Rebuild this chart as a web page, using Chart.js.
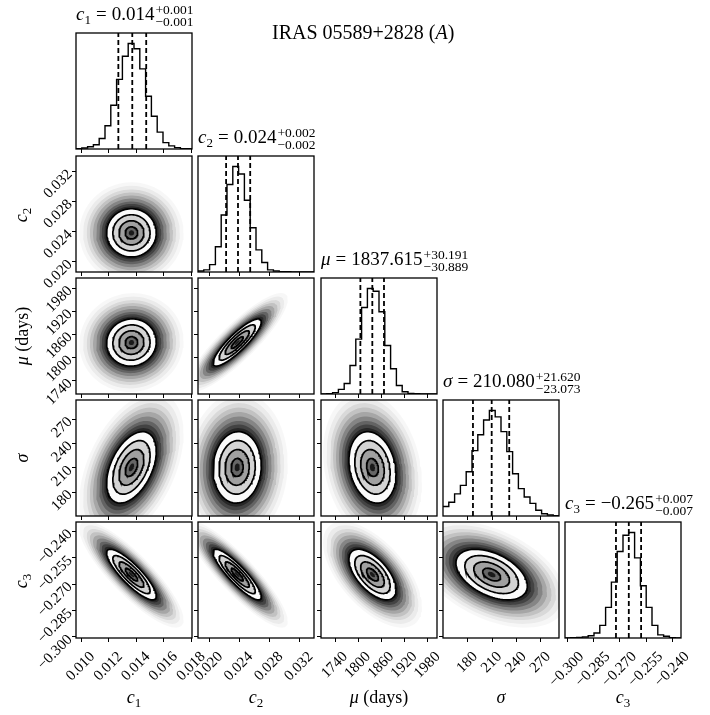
<!DOCTYPE html>
<html>
<head>
<meta charset="utf-8">
<script src="https://cdn.jsdelivr.net/npm/chart.js@4.4.1/dist/chart.umd.min.js"></script>
<style>
  html, body { margin: 0; padding: 0; background: #fff; }
  body { width: 710px; height: 715px; position: relative; overflow: hidden;
         font-family: "Liberation Serif", serif; color: #000; }
  canvas { position: absolute; }
  .txt { position: absolute; white-space: nowrap; font-size: 19px; line-height: 20px; }
  .sb { font-size: 13px; position: relative; top: 4px; }
  .pm { display: inline-flex; flex-direction: column; font-size: 13.5px; line-height: 11.5px;
        position: relative; top: -6px; margin-left: 1px; }
  .eq { margin: 0 5px; }
  .lab { position: absolute; white-space: nowrap; font-size: 18px; line-height: 20px; }
  .main { position: absolute; white-space: nowrap; font-size: 20px; line-height: 20px; }
</style>
</head>
<body>
<script>
// variables, in corner order
const varNames = ['<i>c</i><span class="sb">1</span>', '<i>c</i><span class="sb">2</span>',
                  '<i>μ</i> (days)', '<i>σ</i>', '<i>c</i><span class="sb">3</span>'];
const titleNames = ['<i>c</i><span class="sb">1</span>', '<i>c</i><span class="sb">2</span>',
                    '<i>μ</i>', '<i>σ</i>', '<i>c</i><span class="sb">3</span>'];
const titleValues = ['0.014', '0.024', '1837.615', '210.080', '−0.265'];
const titlePlus = ['+0.001', '+0.002', '+30.191', '+21.620', '+0.007'];
const titleMinus = ['−0.001', '−0.002', '−30.889', '−23.073', '−0.007'];

// axis ranges and ticks
const axisMin = [0.00966, 0.0186, 1704.8, 150.1, -0.3009];
const axisMax = [0.01807, 0.0340, 2005.0, 293.0, -0.2349];
const tickValues = [
  [0.010, 0.012, 0.014, 0.016, 0.018],
  [0.020, 0.024, 0.028, 0.032],
  [1740, 1800, 1860, 1920, 1980],
  [180, 210, 240, 270],
  [-0.300, -0.285, -0.270, -0.255, -0.240]
];
const tickLabels = [
  ['0.010', '0.012', '0.014', '0.016', '0.018'],
  ['0.020', '0.024', '0.028', '0.032'],
  ['1740', '1800', '1860', '1920', '1980'],
  ['180', '210', '240', '270'],
  ['−0.300', '−0.285', '−0.270', '−0.255', '−0.240']
];

// 1D histograms (20 bins, relative counts, peak = 100)
const histC1 = [0.3, 1, 2.2, 4, 10, 22, 41.5, 66, 88, 100, 95, 76, 50, 31, 16, 6, 3, 1.3, 0.3, 0.2];
const histC2 = [1, 2, 7, 24, 54, 83, 100, 93, 68, 42, 21, 9, 2, 1, 0.3, 0.2, 0.1, 0, 0, 0];
const histMu = [0, 0.3, 1.3, 4.4, 10, 27, 52, 82, 100, 97.5, 78, 46, 24, 8, 2.2, 0.6, 0.3, 0.1, 0.1, 0];
const histSigma = [9, 13, 21, 29, 42, 62, 77, 91, 100, 94, 80, 61, 40, 26, 18, 12, 5.4, 2.2, 1, 0.3];
const histC3 = [0, 0.2, 0.5, 1, 2.2, 4.8, 12, 29, 53, 82, 97.4, 100, 76, 49.5, 29, 12, 3, 1.6, 0.3, 0.1];
const hists = [histC1, histC2, histMu, histSigma, histC3];

// 16th, 50th, 84th percentiles
const qC1 = [0.01273, 0.01374, 0.01475];
const qC2 = [0.02233, 0.02391, 0.02553];
const qMu = [1806.726, 1837.615, 1867.806];
const qSigma = [187.007, 210.080, 231.700];
const qC3 = [-0.2719, -0.2646, -0.2576];
const quantiles = [qC1, qC2, qMu, qSigma, qC3];

// 2D contour shape: centre, spread, correlation
const centers = [0.01368, 0.0238, 1838, 210, -0.2648];
const spreads = [0.0009, 0.0016, 30.5, 22, 0.0072];
const corrC2 = [0.0];
const corrMu = [0.03, 0.87];
const corrSigma = [0.45, 0.05, -0.2];
const corrC3 = [-0.85, -0.88, -0.6, -0.45];
const corrRows = [[], corrC2, corrMu, corrSigma, corrC3];

// density shading (sample cloud outside, filled contours inside)
const haloLevels = [4.2, 3.9, 3.6, 3.35, 3.1, 2.85, 2.6, 2.4, 2.2];
const haloAlpha = [0.03, 0.05, 0.08, 0.11, 0.15, 0.2, 0.26, 0.32, 0.42];
const contourLevels = [2, 1.5, 1, 0.5];
const contourFills = ['#fbfbfb', '#d3d3d3', '#a0a0a0', '#666666'];

const lefts = [76, 198, 321, 443, 565];
const tops = [33, 156, 278, 400, 522];
const SIZE = 116;

function ellipse(row, col, r) {
  const rho = corrRows[row][col];
  const pts = [];
  for (let k = 0; k <= 90; k++) {
    const t = 2 * Math.PI * k / 90;
    const a = Math.cos(t), b = Math.sin(t);
    pts.push({
      x: centers[col] + r * spreads[col] * a,
      y: centers[row] + r * spreads[row] * (rho * a + Math.sqrt(1 - rho * rho) * b)
    });
  }
  return pts;
}

const cornerAxes = {
  id: 'cornerAxes',
  afterDraw(chart, args, opts) {
    const { ctx, chartArea: a, scales } = chart;
    const row = opts.row, col = opts.col;
    ctx.save();
    ctx.strokeStyle = '#000';
    ctx.lineWidth = 1.3;
    ctx.strokeRect(a.left, a.top, a.right - a.left, a.bottom - a.top);
    ctx.lineWidth = 1;
    ctx.beginPath();
    tickValues[col].forEach(v => {
      const x = Math.round(scales.x.getPixelForValue(v)) + 0.5;
      ctx.moveTo(x, a.bottom); ctx.lineTo(x, a.bottom + 4);
    });
    if (row !== col) {
      tickValues[row].forEach(v => {
        const y = Math.round(scales.y.getPixelForValue(v)) + 0.5;
        ctx.moveTo(a.left, y); ctx.lineTo(a.left - 4, y);
      });
    }
    ctx.stroke();
    ctx.fillStyle = '#000';
    ctx.font = '15px "Liberation Serif"';
    if (row === 4) {
      tickValues[col].forEach((v, k) => {
        const s = tickLabels[col][k];
        const w = ctx.measureText(s).width;
        const off = 13 + (w + 10) / (2 * Math.SQRT2);
        ctx.save();
        ctx.translate(scales.x.getPixelForValue(v), a.bottom + off);
        ctx.rotate(-Math.PI / 4);
        ctx.textAlign = 'center'; ctx.textBaseline = 'middle';
        ctx.fillText(s, 0, 0);
        ctx.restore();
      });
    }
    if (col === 0 && row > 0) {
      tickValues[row].forEach((v, k) => {
        ctx.save();
        ctx.translate(a.left - 6, scales.y.getPixelForValue(v) + 1);
        ctx.rotate(-Math.PI / 4);
        ctx.textAlign = 'right'; ctx.textBaseline = 'middle';
        ctx.fillText(tickLabels[row][k], 0, 0);
        ctx.restore();
      });
    }
    ctx.restore();
  }
};

function histDatasets(i) {
  const h = hists[i];
  const step = (axisMax[i] - axisMin[i]) / h.length;
  const pts = [];
  h.forEach((v, k) => {
    pts.push({ x: axisMin[i] + k * step, y: v });
    pts.push({ x: axisMin[i] + (k + 1) * step, y: v });
  });
  const ds = [{ data: pts, borderColor: '#000', borderWidth: 1.4, fill: false, order: 1 }];
  quantiles[i].forEach(q => {
    ds.push({ data: [{ x: q, y: 0 }, { x: q, y: 110 }], borderColor: '#000', borderWidth: 1.8,
              borderDash: [5, 3], fill: false, order: 0 });
  });
  return ds;
}

function densityDatasets(row, col) {
  const ds = [];
  let order = 100;
  haloLevels.forEach((r, k) => {
    ds.push({ data: ellipse(row, col, r), borderWidth: 0, borderColor: 'rgba(0,0,0,0)',
              backgroundColor: 'rgba(0,0,0,' + haloAlpha[k] + ')', fill: 'shape', order: order-- });
  });
  contourLevels.forEach((r, k) => {
    ds.push({ data: ellipse(row, col, r), borderWidth: 1.7, borderColor: '#000',
              backgroundColor: contourFills[k], fill: 'shape', order: order-- });
  });
  ds.push({ data: ellipse(row, col, 0.22), borderWidth: 0, borderColor: 'rgba(0,0,0,0)',
            backgroundColor: '#1a1a1a', fill: 'shape', order: order-- });
  return ds;
}

function makePanel(row, col) {
  const padL = col === 0 ? 75 : (row === 4 ? 30 : 8);
  const padB = row === 4 ? 75 : (col === 0 ? 40 : 8);
  const padT = 4, padR = row === 4 ? 30 : 4;
  const w = SIZE + padL + padR, h = SIZE + padT + padB;
  const cv = document.createElement('canvas');
  cv.width = w; cv.height = h;
  cv.style.left = (lefts[col] - padL) + 'px';
  cv.style.top = (tops[row] - padT) + 'px';
  cv.style.width = w + 'px'; cv.style.height = h + 'px';
  document.body.appendChild(cv);
  const isHist = row === col;
  new Chart(cv, {
    type: 'line',
    data: { datasets: isHist ? histDatasets(col) : densityDatasets(row, col) },
    options: {
      responsive: false, animation: false, events: [],
      elements: { point: { radius: 0 }, line: { tension: 0 } },
      layout: { padding: { left: padL, right: padR, top: padT, bottom: padB } },
      plugins: { legend: { display: false }, tooltip: { enabled: false },
                 cornerAxes: { row: row, col: col } },
      scales: {
        x: { type: 'linear', display: false, min: axisMin[col], max: axisMax[col] },
        y: { type: 'linear', display: false,
             min: isHist ? 0 : axisMin[row], max: isHist ? 110 : axisMax[row] }
      }
    },
    plugins: [cornerAxes]
  });
}

for (let row = 0; row < 5; row++) {
  for (let col = 0; col <= row; col++) makePanel(row, col);
}

function addText(cls, html, left, top, extra) {
  const d = document.createElement('div');
  d.className = cls;
  d.innerHTML = html;
  d.style.left = left + 'px';
  d.style.top = top + 'px';
  if (extra) d.style.transform = extra;
  document.body.appendChild(d);
}

// panel titles
for (let i = 0; i < 5; i++) {
  const html = titleNames[i] + '<span class="eq">=</span>' + titleValues[i] +
    '<span class="pm"><span>' + titlePlus[i] + '</span><span>' + titleMinus[i] + '</span></span>';
  addText('txt', html, lefts[i], tops[i] - 29);
}
addText('main', 'IRAS 05589+2828 (<i>A</i>)', 272, 22);

// axis labels
for (let i = 0; i < 5; i++) {
  addText('lab', varNames[i], lefts[i] + SIZE / 2, 687, 'translateX(-50%)');
  if (i > 0) addText('lab', varNames[i], 22, tops[i] + SIZE / 2 - 10, 'translateX(-50%) rotate(-90deg)');
}
</script>
</body>
</html>
